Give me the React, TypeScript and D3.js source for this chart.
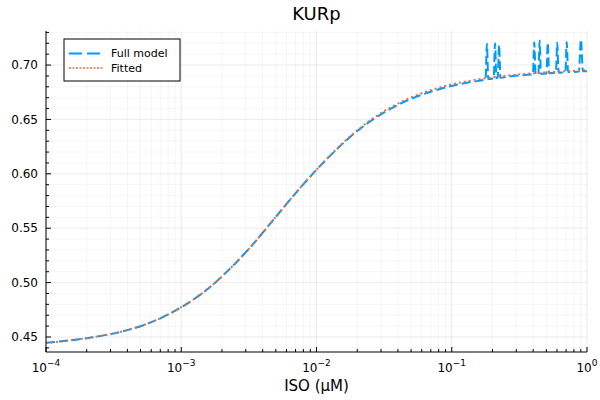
import React from 'react';
import * as d3 from 'd3';

// ISO concentration as log10(μM), KURp values
const fullLogIso = [
  -4, -3.85, -3.7, -3.55, -3.4, -3.25, -3.1, -2.95, -2.8, -2.65, -2.5, -2.35, -2.2, -2.05,
  -1.9, -1.75, -1.6, -1.45, -1.3, -1.15, -1.0, -0.85,
  -0.75, -0.74, -0.73, -0.69, -0.68, -0.67, -0.66, -0.65, -0.64, -0.55,
  -0.4, -0.39, -0.38, -0.36, -0.35, -0.34, -0.3, -0.29, -0.28, -0.23, -0.22, -0.21,
  -0.16, -0.15, -0.14, -0.06, -0.045, -0.03, 0,
];
const fullKurp = [
  0.4446, 0.4465, 0.4489, 0.452, 0.4563, 0.4622, 0.4705, 0.4812, 0.4945, 0.5115, 0.531, 0.553, 0.5755, 0.597,
  0.6165, 0.634, 0.6485, 0.66, 0.669, 0.6757, 0.6808, 0.6846,
  0.6868, 0.7195, 0.6871, 0.6877, 0.72, 0.688, 0.6882, 0.7185, 0.6884, 0.69,
  0.6914, 0.721, 0.6915, 0.6917, 0.7225, 0.6919, 0.6923, 0.7205, 0.6925, 0.6929, 0.7205, 0.693,
  0.6934, 0.7212, 0.6935, 0.694, 0.7235, 0.6942, 0.6944,
];

const fitLogIso = [
  -4, -3.85, -3.7, -3.55, -3.4, -3.25, -3.1, -2.95, -2.8, -2.65, -2.5, -2.35, -2.2, -2.05,
  -1.9, -1.75, -1.6, -1.45, -1.3, -1.15, -1.0, -0.85, -0.7, -0.55, -0.4, -0.25, -0.1, 0,
];
const fitKurp = [
  0.4446, 0.4465, 0.4489, 0.452, 0.4563, 0.4622, 0.4705, 0.4812, 0.4945, 0.5115, 0.531, 0.553, 0.5755, 0.597,
  0.6168, 0.6346, 0.6495, 0.6612, 0.6703, 0.6771, 0.6822, 0.6859, 0.6887, 0.6909, 0.6924, 0.6936, 0.6946, 0.6952,
];

const xTickExps = [-4, -3, -2, -1, 0];
const yTicks = [0.45, 0.5, 0.55, 0.6, 0.65, 0.7];
const seriesNames = ['Full model', 'Fitted'];

const W = 600;
const H = 400;
const margin = { top: 31, right: 13, bottom: 48, left: 46 };
const BLUE = '#009af9';
const ORANGE = '#e26f46';
const FONT = '"DejaVu Sans", sans-serif';

export default function App() {
  const x = d3.scaleLog().domain([1e-4, 1]).range([margin.left, W - margin.right]);
  const y = d3.scaleLinear().domain([0.4362, 0.7313]).range([H - margin.bottom, margin.top]);
  const x0 = margin.left;
  const x1 = W - margin.right;
  const y0 = H - margin.bottom;
  const y1 = margin.top;

  const line = d3
    .line<[number, number]>()
    .x(d => x(10 ** d[0]))
    .y(d => y(d[1]))
    .curve(d3.curveMonotoneX);

  const fullPts = fullLogIso.map((l, i) => [l, fullKurp[i]] as [number, number]);
  const fitPts = fitLogIso.map((l, i) => [l, fitKurp[i]] as [number, number]);

  // minor x positions: 2..9 inside each decade
  const xMinor: number[] = [];
  for (const e of xTickExps.slice(0, -1)) for (let k = 2; k <= 9; k++) xMinor.push(k * 10 ** e);
  // minor y: every 0.01
  const yMinor = d3.range(44, 74).map(v => v / 100).filter(v => Math.abs((v * 100) % 5) > 0.01);

  return (
    <svg width={W} height={H} style={{ position: 'absolute', left: 0, top: 0, background: '#fff' }} fontFamily={FONT}>
      {/* grid */}
      {xMinor.map(v => (
        <line key={'xm' + v} x1={x(v)} x2={x(v)} y1={y0} y2={y1} stroke="#000" strokeOpacity={0.04} />
      ))}
      {yMinor.map(v => (
        <line key={'ym' + v} x1={x0} x2={x1} y1={y(v)} y2={y(v)} stroke="#000" strokeOpacity={0.04} />
      ))}
      {xTickExps.map(e => (
        <line key={'xg' + e} x1={x(10 ** e)} x2={x(10 ** e)} y1={y0} y2={y1} stroke="#000" strokeOpacity={0.08} />
      ))}
      {yTicks.map(v => (
        <line key={'yg' + v} x1={x0} x2={x1} y1={y(v)} y2={y(v)} stroke="#000" strokeOpacity={0.08} />
      ))}

      {/* series */}
      <path d={line(fullPts) ?? ''} fill="none" stroke={BLUE} strokeWidth={2} strokeDasharray="9,4" />
      <path d={line(fitPts) ?? ''} fill="none" stroke={ORANGE} strokeWidth={2} strokeDasharray="2,3" />

      {/* axes */}
      <line x1={x0} x2={x1} y1={y0} y2={y0} stroke="#000" />
      <line x1={x0} x2={x0} y1={y0} y2={y1} stroke="#000" />
      {xTickExps.map(e => (
        <g key={'xt' + e}>
          <line x1={x(10 ** e)} x2={x(10 ** e)} y1={y0} y2={y0 - 5} stroke="#000" />
          <text x={x(10 ** e)} y={y0 + 20} fontSize={12} textAnchor="middle">
            10
            <tspan dy={-6} fontSize={9}>
              {e === 0 ? '0' : '\u2212' + Math.abs(e)}
            </tspan>
          </text>
        </g>
      ))}
      {xMinor.map(v => (
        <line key={'xmt' + v} x1={x(v)} x2={x(v)} y1={y0} y2={y0 - 3} stroke="#000" />
      ))}
      {yTicks.map(v => (
        <g key={'yt' + v}>
          <line x1={x0} x2={x0 + 5} y1={y(v)} y2={y(v)} stroke="#000" />
          <text x={x0 - 8} y={y(v)} dy="0.35em" fontSize={12} textAnchor="end">
            {v.toFixed(2)}
          </text>
        </g>
      ))}
      {yMinor.map(v => (
        <line key={'ymt' + v} x1={x0} x2={x0 + 3} y1={y(v)} y2={y(v)} stroke="#000" />
      ))}

      {/* labels */}
      <text x={(x0 + x1) / 2} y={20} fontSize={18} textAnchor="middle">
        KURp
      </text>
      <text x={(x0 + x1) / 2} y={391} fontSize={15} textAnchor="middle">
        ISO (μM)
      </text>

      {/* legend */}
      <rect x={64} y={39} width={116} height={42} fill="#fff" stroke="#000" />
      {seriesNames.map((name, i) => (
        <g key={name}>
          <line
            x1={69}
            x2={103}
            y1={53.5 + i * 14.5}
            y2={53.5 + i * 14.5}
            stroke={i === 0 ? BLUE : ORANGE}
            strokeWidth={i === 0 ? 2 : 1.5}
            strokeDasharray={i === 0 ? '13,5' : '2,1.5'}
          />
          <text x={111} y={53.5 + i * 14.5} dy="0.35em" fontSize={11}>
            {name}
          </text>
        </g>
      ))}
    </svg>
  );
}
